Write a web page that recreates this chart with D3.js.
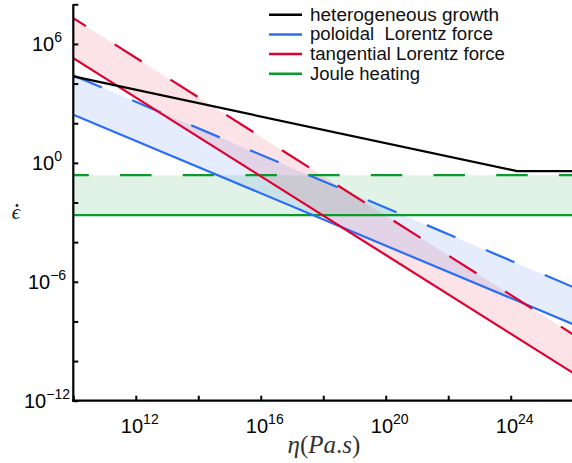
<!DOCTYPE html>
<html>
<head>
<meta charset="utf-8">
<script src="https://cdn.jsdelivr.net/npm/d3@7"></script>
<style>
  html, body { margin: 0; padding: 0; background: #fff; }
  svg { display: block; }
</style>
</head>
<body>
<svg id="chart" width="572" height="463"></svg>
<script>
// ---------------- data ----------------
const etaRange = [1e10, 1e26];                 // viscosity endpoints (Pa.s)
const poloidalLow  = [2.7e2, 7.2e-9];          // solid blue
const poloidalHigh = [2.6e4, 5.4e-7];          // dashed blue
const tangentialLow  = [1.9e5, 2.5e-11];       // solid red
const tangentialHigh = [2.0e7, 2.2e-9];        // dashed red
const jouleLow  = [2.3e-3, 2.3e-3];            // solid green
const jouleHigh = [0.24, 0.24];                // dashed green
const growthEta    = [1e10, 1.6e24, 1e26];     // heterogeneous growth
const growthValues = [2.3e4, 0.38, 0.38];

const xTickExps = [10, 12, 14, 16, 18, 20, 22, 24, 26];
const xLabelExps = [12, 16, 20, 24];
const yTickExps = [-12, -10, -8, -6, -4, -2, 0, 2, 4, 6, 8];
const yLabelExps = [-12, -6, 0, 6];

const legendLabels = ["heterogeneous growth", "poloidal  Lorentz force", "tangential Lorentz force", "Joule heating"];
const legendColors = ["#000000", "#2b6ef2", "#dd0030", "#0a9a2e"];

// ---------------- chart ----------------
const svg = d3.select("#chart");
const L = 73.3, R = 573.2, T = 4.3, B = 400.7;
const x = d3.scaleLog().domain([1e10, 1e26]).range([L, R]);
const y = d3.scaleLog().domain([1e-12, 1e8]).range([B, T]);

const blue = legendColors[1], red = legendColors[2], green = legendColors[3];

svg.append("defs").append("clipPath").attr("id", "plotclip")
  .append("rect").attr("x", L).attr("y", T).attr("width", R - L).attr("height", B - T);

const plot = svg.append("g").attr("clip-path", "url(#plotclip)");

function band(lo, hi) {
  return etaRange.map((e, i) => ({ e, lo: lo[i], hi: hi[i] }));
}
const area = d3.area().x(d => x(d.e)).y0(d => y(d.lo)).y1(d => y(d.hi));
const line = d3.line().x(d => x(d[0])).y(d => y(d[1]));

// fills
plot.append("path").datum(band(jouleLow, jouleHigh)).attr("d", area)
  .attr("fill", green).attr("fill-opacity", 0.12);
plot.append("path").datum(band(poloidalLow, poloidalHigh)).attr("d", area)
  .attr("fill", blue).attr("fill-opacity", 0.12);
plot.append("path").datum(band(tangentialLow, tangentialHigh)).attr("d", area)
  .attr("fill", red).attr("fill-opacity", 0.11);

function drawLine(xs, ys, color, dash, offset) {
  const p = plot.append("path").datum(xs.map((e, i) => [e, ys[i]]))
    .attr("d", line).attr("fill", "none").attr("stroke", color)
    .attr("stroke-width", 2.2);
  if (dash) p.attr("stroke-dasharray", dash).attr("stroke-dashoffset", offset || 0);
  return p;
}

drawLine(etaRange, jouleHigh, green, "31.5,31.2", 16);
drawLine(etaRange, jouleLow, green);
drawLine(etaRange, poloidalHigh, blue, "31,33", 0);
drawLine(etaRange, poloidalLow, blue);
drawLine(etaRange, tangentialHigh, red, "32,34", 17);
drawLine(etaRange, tangentialLow, red);
drawLine(growthEta, growthValues, "#000");

// axes
const xAxis = d3.axisBottom(x).tickValues(xTickExps.map(e => Math.pow(10, e)))
  .tickSize(-5).tickSizeOuter(0).tickFormat("");
const yAxis = d3.axisLeft(y).tickValues(yTickExps.map(e => Math.pow(10, e)))
  .tickSize(-5).tickSizeOuter(0).tickFormat("");

const gx = svg.append("g").attr("transform", `translate(0,${B})`).call(xAxis);
const gy = svg.append("g").attr("transform", `translate(${L},0)`).call(yAxis);
[gx, gy].forEach(g => {
  g.select(".domain").attr("stroke", "#000").attr("stroke-width", 2.2);
  g.selectAll(".tick line").attr("stroke", "#000").attr("stroke-width", 2);
});
gx.select(".domain").attr("d", `M${L - 1.1},0H${R}`);
gy.select(".domain").attr("d", `M0,${T}V${B + 1.1}`);

const fontSans = "'Liberation Sans', Arial, Helvetica, sans-serif";

// x tick labels
xLabelExps.forEach(e => {
  const t = svg.append("text").attr("x", x(Math.pow(10, e)) + 4).attr("y", 433)
    .attr("text-anchor", "middle").attr("font-family", fontSans).attr("font-size", 20).attr("fill", "#000");
  t.append("tspan").text("10");
  t.append("tspan").attr("font-size", 14).attr("dy", -9).text(String(e));
});
// y tick labels
yLabelExps.forEach(e => {
  const t = svg.append("text").attr("x", 47).attr("y", y(Math.pow(10, e)) + 7)
    .attr("text-anchor", "middle").attr("font-family", fontSans).attr("font-size", 20).attr("fill", "#000");
  t.append("tspan").text("10");
  t.append("tspan").attr("font-size", 14).attr("dy", -9).text(e < 0 ? "\u2212" + Math.abs(e) : String(e));
});

// axis titles
const fontSerif = "'Liberation Serif', 'DejaVu Serif', serif";
const xl = svg.append("text").attr("x", 324).attr("y", 453).attr("text-anchor", "middle")
  .attr("font-family", fontSerif).attr("font-size", 25).attr("fill", "#333");
xl.append("tspan").attr("font-style", "italic").text("η");
xl.append("tspan").text("(");
xl.append("tspan").attr("font-style", "italic").text("Pa");
xl.append("tspan").text(".");
xl.append("tspan").attr("font-style", "italic").text("s");
xl.append("tspan").text(")");

// y-axis title: epsilon with a dot above (dot drawn as a small mark)
svg.append("text").attr("x", 16).attr("y", 219).attr("text-anchor", "middle")
  .attr("font-family", fontSerif).attr("font-style", "italic").attr("font-size", 21).attr("fill", "#222").text("ϵ");
svg.append("circle").attr("cx", 17).attr("cy", 205.5).attr("r", 1.4).attr("fill", "#222");

// legend
const legendWidths = [189, 183, 195, 110];
legendLabels.forEach((lab, i) => {
  const yy = 14.7 + i * 19.7;
  svg.append("line").attr("x1", 269).attr("x2", 302).attr("y1", yy).attr("y2", yy)
    .attr("stroke", legendColors[i]).attr("stroke-width", 2.5);
  svg.append("text").attr("x", 310).attr("y", yy + 6)
    .attr("font-family", fontSans).attr("font-size", 17.5).attr("fill", "#111")
    .style("white-space", "pre")
    .attr("textLength", legendWidths[i]).attr("lengthAdjust", "spacingAndGlyphs")
    .text(lab);
});
</script>
</body>
</html>
